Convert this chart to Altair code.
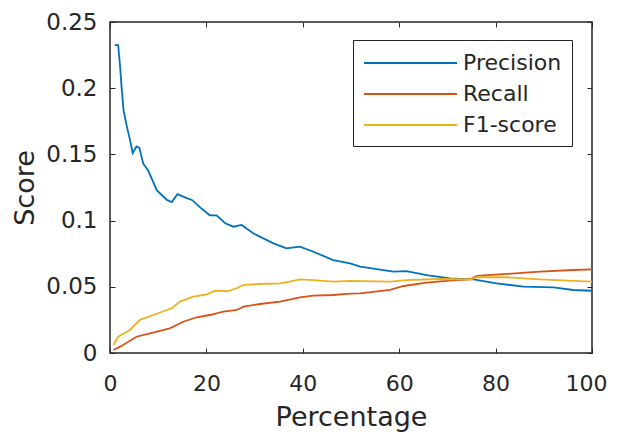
import altair as alt
import pandas as pd

series_names = ["Precision", "Recall", "F1-score"]
series_colors = ["#0072BD", "#D95319", "#EDB120"]

precision_x = [1.0, 1.7, 2.1, 2.4, 2.8, 3.5, 4.15, 4.7, 5.5, 6.1, 6.9, 7.9, 9.7, 11.8, 12.8, 14.0,
               15.9, 17.0, 18.7, 20.7, 22.1, 23.9, 25.6, 27.3, 29.7, 33.9, 36.6, 39.4, 42.2, 46.3,
               49.8, 51.9, 58.8, 61.5, 65.7, 70.5, 75.4, 80.2, 85.8, 92.0, 96.1, 100.0]
precision_y = [0.2326, 0.2326, 0.216, 0.201, 0.1835, 0.171, 0.161, 0.151, 0.156, 0.155, 0.143, 0.138,
               0.123, 0.1156, 0.114, 0.120, 0.117, 0.1156, 0.110, 0.104, 0.104, 0.098, 0.0954, 0.0967,
               0.0904, 0.0828, 0.079, 0.0803, 0.0765, 0.0702, 0.0677, 0.0652, 0.0614, 0.0619, 0.0589,
               0.0564, 0.0556, 0.0526, 0.0501, 0.0496, 0.0476, 0.047]

recall_x = [0.7, 2.1, 5.5, 8.3, 12.4, 15.2, 18.0, 20.7, 23.5, 26.3, 27.7, 31.1, 35.3, 39.4, 42.2,
            46.3, 49.8, 51.9, 58.1, 60.9, 65.7, 70.5, 74.7, 76.1, 82.3, 89.2, 96.1, 100.0]
recall_y = [0.0023, 0.0048, 0.0123, 0.0149, 0.0186, 0.0236, 0.027, 0.0287, 0.0312, 0.0325, 0.035,
            0.037, 0.0388, 0.042, 0.0433, 0.0438, 0.0448, 0.045, 0.0476, 0.0506, 0.0531, 0.0546,
            0.0556, 0.0582, 0.0597, 0.0614, 0.0627, 0.0632]

f1_x = [0.7, 1.7, 4.1, 6.2, 9.0, 11.8, 12.8, 14.5, 17.3, 20.1, 21.8, 24.5, 26.3, 27.7, 31.1, 35.3,
        37.3, 39.4, 42.2, 46.3, 49.8, 58.1, 61.5, 68.5, 74.7, 76.1, 82.3, 89.2, 96.1, 100.0]
f1_y = [0.006, 0.0123, 0.0174, 0.025, 0.0287, 0.0325, 0.0338, 0.0388, 0.0425, 0.0443, 0.047, 0.0468,
        0.0489, 0.0514, 0.0521, 0.0526, 0.0539, 0.0556, 0.0551, 0.0539, 0.0544, 0.0539, 0.0551,
        0.0559, 0.0556, 0.0572, 0.0572, 0.0556, 0.0544, 0.0539]

x_ticks = [0, 20, 40, 60, 80, 100]
y_ticks = [0, 0.05, 0.1, 0.15, 0.2, 0.25]

rows = []
for name, xs, ys in [("Precision", precision_x, precision_y),
                     ("Recall", recall_x, recall_y),
                     ("F1-score", f1_x, f1_y)]:
    for xv, yv in zip(xs, ys):
        rows.append({"Percentage": xv, "Score": yv, "Series": name})
df = pd.DataFrame(rows)

FONT = "DejaVu Sans"
INK = "#262626"

x_scale = alt.Scale(domain=[0, 100], nice=False, zero=False)
y_scale = alt.Scale(domain=[0, 0.25], nice=False)

common_axis = dict(domain=False, grid=False, tickSize=5, offset=-5, tickColor=INK, tickWidth=1,
                   labelFont=FONT, labelColor=INK, labelFlush=False,
                   labelOverlap=False, titleFont=FONT, titleFontSize=27, titleColor=INK,
                   titleFontWeight="normal")

lines = alt.Chart(df).mark_line(strokeWidth=1.8).encode(
    x=alt.X("Percentage:Q", scale=x_scale,
            axis=alt.Axis(orient="bottom", values=x_ticks, title="Percentage", format="d",
                          labelFontSize=22,
                          labelOffset=alt.ExprRef("datum.value == 100 ? -6 : 0"),
                          labelPadding=20, titlePadding=10, **common_axis)),
    y=alt.Y("Score:Q", scale=y_scale,
            axis=alt.Axis(orient="left", values=y_ticks, title="Score", format="~g",
                          labelFontSize=23,
                          labelPadding=13, titlePadding=6, **common_axis)),
    color=alt.Color("Series:N",
                    scale=alt.Scale(domain=series_names, range=series_colors),
                    legend=alt.Legend(title=None, orient="none", legendX=243, legendY=18,
                                      symbolType="M-1,0H6.75", symbolSize=576,
                                      symbolStrokeWidth=1.8, labelOffset=74,
                                      labelFont=FONT, labelFontSize=22, labelColor=INK,
                                      labelLimit=400, padding=10, rowPadding=7,
                                      strokeColor=INK, fillColor="white")),
)

frame_ticks = alt.Chart(df).mark_point(opacity=0, size=1).encode(
    x=alt.X("Percentage:Q", scale=x_scale,
            axis=alt.Axis(orient="top", values=x_ticks, title=None, labels=False,
                          domain=False, grid=False, tickSize=5, offset=-5,
                          tickColor=INK, tickWidth=1)),
    y=alt.Y("Score:Q", scale=y_scale,
            axis=alt.Axis(orient="right", values=y_ticks, title=None, labels=False,
                          domain=False, grid=False, tickSize=5, offset=-5,
                          tickColor=INK, tickWidth=1)),
)

chart = alt.layer(lines, frame_ticks).resolve_axis(x="independent", y="independent").properties(
    width=482, height=331,
    autosize=alt.AutoSizeParams(type="none"),
    padding={"left": 102, "top": 14, "right": 17, "bottom": 85},
    background="white",
).configure_view(stroke=INK, strokeWidth=1.5)

chart.save("out.html", embed_options={"renderer": "svg", "actions": False})
